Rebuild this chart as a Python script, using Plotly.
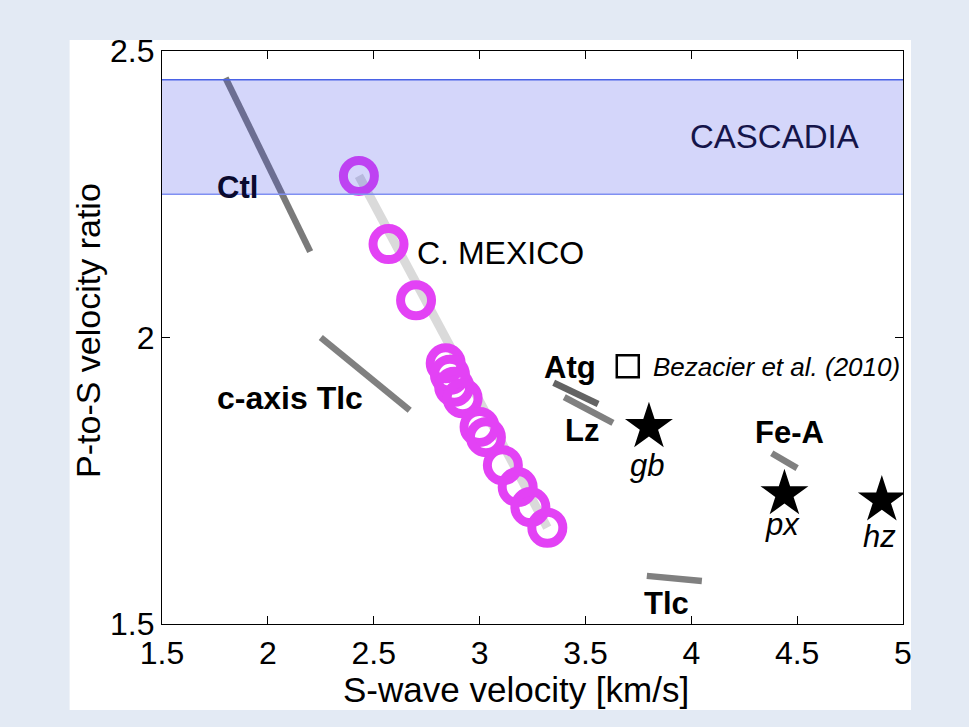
import plotly.graph_objects as go

# Central Mexico slab-top estimates (Vs, Vp/Vs)
mex_vs = [2.43, 2.57, 2.70, 2.84, 2.86, 2.88, 2.92, 3.00, 3.03, 3.11, 3.18, 3.24, 3.32]
mex_ratio = [2.282, 2.163, 2.065, 1.955, 1.935, 1.914, 1.894, 1.844, 1.826, 1.777, 1.739, 1.704, 1.668]

# Mineral trends (start/end of each segment)
ctl_vs, ctl_ratio = [1.80, 2.20], [2.453, 2.150]
ctlc_vs, ctlc_ratio = [2.25, 2.67], [2.000, 1.873]
atg_vs, atg_ratio = [3.35, 3.56], [1.921, 1.884]
lz_vs, lz_ratio = [3.40, 3.63], [1.896, 1.851]
fea_vs, fea_ratio = [4.38, 4.50], [1.798, 1.772]
tlc_vs, tlc_ratio = [3.79, 4.05], [1.584, 1.575]

# Rock types (stars)
rock_names = ["gb", "px", "hz"]
rock_vs = [3.80, 4.44, 4.90]
rock_ratio = [1.844, 1.727, 1.716]

# Reference-symbol position
bez_vs, bez_ratio = [3.70], [1.950]

# Cascadia Vp/Vs range
casc_lo, casc_hi = 2.25, 2.45

x_ticks = [1.5, 2, 2.5, 3, 3.5, 4, 4.5, 5]
x_tick_text = ["1.5", "2", "2.5", "3", "3.5", "4", "4.5", "5"]
y_ticks = [1.5, 2, 2.5]
y_tick_text = ["1.5", "2", "2.5"]

FONT = "Liberation Sans"
GRAY = "#808080"
MAGENTA = "#E342F5"

fig = go.Figure()

# trend line through the Mexico estimates
fig.add_trace(go.Scatter(x=[mex_vs[0], mex_vs[-1]], y=[mex_ratio[0], mex_ratio[-1]],
                         mode="lines", line=dict(color="#DADADA", width=9)))

for xs, ys, col in [(ctl_vs, ctl_ratio, "#7A7A7A"), (ctlc_vs, ctlc_ratio, GRAY),
                    (atg_vs, atg_ratio, "#636363"), (lz_vs, lz_ratio, GRAY),
                    (fea_vs, fea_ratio, GRAY), (tlc_vs, tlc_ratio, GRAY)]:
    fig.add_trace(go.Scatter(x=xs, y=ys, mode="lines", line=dict(color=col, width=6.5)))

fig.add_trace(go.Scatter(x=mex_vs, y=mex_ratio, mode="markers",
                         marker=dict(symbol="circle-open", size=31, color=MAGENTA,
                                     line=dict(color=MAGENTA, width=9))))

fig.add_trace(go.Scatter(x=rock_vs, y=rock_ratio, mode="markers",
                         marker=dict(symbol="star", size=36, color="black",
                                     line=dict(width=0))))

fig.add_trace(go.Scatter(x=bez_vs, y=bez_ratio, mode="markers",
                         marker=dict(symbol="square-open", size=22, color="black",
                                     line=dict(color="black", width=2.5))))

# white panel behind the axes
fig.add_shape(type="rect", xref="paper", yref="paper", x0=-0.1247, x1=1.0108,
              y0=-0.150, y1=1.0192, fillcolor="white", line=dict(width=0), layer="below")

# Cascadia band, drawn over the data
fig.add_shape(type="rect", xref="x", yref="y", x0=1.5, x1=5, y0=casc_lo, y1=casc_hi,
              fillcolor="rgba(60,70,230,0.22)", line=dict(width=0), layer="above")
fig.add_shape(type="line", xref="x", yref="y", x0=1.5, x1=5, y0=casc_hi, y1=casc_hi,
              line=dict(color="#4A62E6", width=1.5), layer="above")
fig.add_shape(type="line", xref="x", yref="y", x0=1.5, x1=5, y0=casc_lo, y1=casc_lo,
              line=dict(color="#8090F2", width=1.5), layer="above")

def label(x, y, text, size, color="black", xanchor="center", bold=False, italic=False):
    if bold:
        text = "<b>" + text + "</b>"
    if italic:
        text = "<i>" + text + "</i>"
    fig.add_annotation(x=x, y=y, text=text, showarrow=False, xanchor=xanchor,
                       yanchor="middle", font=dict(family=FONT, size=size, color=color))

label(4.394, 2.350, "CASCADIA", 33, color="#15154A")
label(1.856, 2.261, "Ctl", 31, color="#0A0A2E", bold=True)
label(2.696, 2.147, "C. MEXICO", 32, xanchor="left")
label(1.752, 1.894, "c-axis Tlc", 32, xanchor="left", bold=True)
label(3.427, 1.948, "Atg", 31, bold=True)
label(3.483, 1.837, "Lz", 31, bold=True)
label(3.809, 1.948, "Bezacier et al. (2010)", 26, xanchor="left", italic=True)
label(4.464, 1.835, "Fe-A", 31, bold=True)
label(3.885, 1.536, "Tlc", 31, bold=True)
for name, xv, yv, dy in zip(rock_names, rock_vs, rock_ratio, [-0.068, -0.054, -0.063]):
    label(xv - 0.01, yv + dy, name, 31, italic=True)

# axis titles
fig.add_annotation(x=0.478, y=-0.115, xref="paper", yref="paper", text="S-wave velocity [km/s]",
                   showarrow=False, xanchor="center", yanchor="middle",
                   font=dict(family=FONT, size=35, color="black"))
fig.add_annotation(x=-0.1, y=0.513, xref="paper", yref="paper", text="P-to-S velocity ratio",
                   showarrow=False, textangle=-90, xanchor="center", yanchor="middle",
                   font=dict(family=FONT, size=34, color="black"))

axis_common = dict(showgrid=False, zeroline=False, showline=True, linecolor="black",
                   linewidth=1.2, mirror="ticks", ticks="inside", ticklen=8,
                   tickcolor="black", tickwidth=1.2,
                   tickfont=dict(family=FONT, size=32, color="black"))

fig.update_xaxes(range=[1.5, 5], tickvals=x_ticks, ticktext=x_tick_text, **axis_common)
fig.update_yaxes(range=[1.5, 2.5], tickvals=y_ticks, ticktext=y_tick_text, **axis_common)

fig.update_layout(
    width=969, height=727,
    margin=dict(l=161.5, r=66, t=51, b=103),
    paper_bgcolor="#E3EAF4", plot_bgcolor="white",
    showlegend=False,
)

fig.write_html("out.html")
